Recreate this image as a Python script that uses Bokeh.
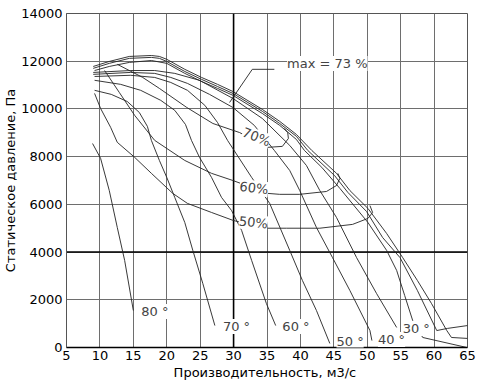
from bokeh.plotting import figure
from bokeh.models import Span, Label, FixedTicker, Range1d
from bokeh.embed import file_html
from bokeh.resources import INLINE

FONT = "DejaVu Sans"

x_ticks = [5, 10, 15, 20, 25, 30, 35, 40, 45, 50, 55, 60, 65]
y_ticks = [0, 2000, 4000, 6000, 8000, 10000, 12000, 14000]

# blade-angle pressure curves (flow m3/s, static pressure Pa)
a80_x = [8.9, 10.1, 11.4, 12.6, 13.7, 15.0]
a80_y = [8550, 7930, 6580, 5030, 3650, 1550]

a70_x = [9.2, 11.7, 14.1, 15.9, 17.1, 17.7, 18.9, 20.0, 21.2, 22.7, 23.9, 25.4, 27.2]
a70_y = [10780, 10610, 10310, 9850, 9270, 8680, 7840, 7130, 6290, 5240, 4070, 2680, 920]

a60_x = [9.2, 13.1, 16.1, 19.1, 21.2, 22.8, 23.7, 24.9, 26.7, 28.2, 29.7, 31.2, 32.7, 34.9, 36.3]
a60_y = [11200, 11030, 10780, 10360, 9940, 9350, 8680, 7970, 7130, 6290, 5740, 4910, 3650, 1850, 920]

a50_x = [9.2, 14.6, 18.2, 20.6, 23.1, 25.7, 27.6, 29.1, 32.7, 35.4, 38.4, 40.3, 42.4, 44.4]
a50_y = [11360, 11410, 11320, 11110, 10780, 10150, 9430, 8680, 7130, 6040, 4070, 2810, 1550, 170]

a40_x = [9.0, 14.6, 18.2, 20.6, 23.1, 26.4, 29.9, 33.1, 36.1, 38.4, 39.9, 42.4, 44.8, 47.4, 50.4, 50.7]
a40_y = [11450, 11530, 11490, 11320, 11070, 10610, 10060, 9310, 8260, 7420, 6580, 5030, 3770, 2390, 710, 290]

a30_x = [9.0, 14.6, 18.2, 21.2, 24.9, 29.9, 34.3, 38.4, 40.9, 42.9, 45.4, 48.4, 51.4, 54.4]
a30_y = [11530, 11610, 11610, 11490, 11200, 10440, 9600, 8470, 7630, 6580, 5450, 3770, 2260, 840]

a20_x = [9.2, 11.4, 14.4, 17.7, 20.0, 22.7, 25.2, 27.6, 29.9, 34.3, 36.9, 39.4, 40.6, 43.2, 45.9,
         50.1, 52.9, 54.4, 55.6, 56.8, 58.3, 64.9]
a20_y = [11610, 11780, 11950, 12030, 11910, 11490, 11150, 10860, 10570, 9810, 9310, 8720, 8260, 7550, 6670,
         5240, 4070, 3230, 2180, 1130, 420, 0]

a10_x = [9.0, 11.4, 14.4, 17.7, 18.9, 20.0, 22.7, 25.2, 27.6, 29.9, 34.3, 36.9, 39.4, 41.1, 45.1, 47.1,
         49.9, 52.3, 54.9, 57.5, 60.4, 62.0, 65.0]
a10_y = [11700, 11910, 12120, 12160, 12120, 11990, 11570, 11240, 10940, 10650, 9900, 9390, 8850, 8260, 7210, 6500,
         5700, 4610, 3770, 2390, 710, 800, 920]

a0_x = [9.0, 11.4, 14.4, 17.7, 18.9, 20.0, 22.7, 25.2, 27.6, 29.9, 34.3, 36.9, 39.4, 41.7, 45.4, 47.4,
        50.1, 52.9, 55.3, 57.5, 59.6, 61.9, 62.6, 65.0]
a0_y = [11780, 11990, 12200, 12240, 12200, 12080, 11660, 11320, 11030, 10730, 9980, 9480, 8930, 8260, 7300, 6580,
        5830, 4780, 3770, 2810, 1850, 710, 420, 380]

# efficiency contours
e50_x = [9.2, 10.1, 11.6, 12.6, 15.2, 17.7, 20.9, 23.1, 26.7, 29.9, 34.6, 37.9, 42.9, 47.8, 50.1, 50.8, 50.4]
e50_y = [10650, 10020, 9230, 8600, 7970, 7300, 6460, 6040, 5660, 5330, 5000, 5000, 5000, 5160, 5410, 5660, 5950]

e60_x = [10.7, 12.9, 15.2, 18.2, 22.7, 26.7, 29.9, 35.1, 36.9, 39.9, 43.9, 45.4, 45.9, 45.6]
e60_y = [11610, 10690, 9730, 8680, 7840, 7300, 7000, 6460, 6420, 6420, 6540, 6790, 7090, 7300]

e70_x = [12.6, 16.4, 18.9, 23.0, 26.9, 30.9, 35.1, 37.3, 38.2, 38.1, 37.6]
e70_y = [11870, 11320, 10860, 10060, 9390, 9010, 8390, 8430, 8760, 9010, 9180]

lead_x = [29.4, 32.8, 36.1]
lead_y = [10270, 11660, 11660]

angle_labels = ["80 °", "70 °", "60 °", "50 °", "40 °", "30 °"]
angle_lab_x = [16.2, 28.4, 37.3, 45.4, 51.6, 55.3]
angle_lab_y = [1510, 880, 880, 250, 340, 800]

eff_labels = ["70%", "60%", "50%"]
eff_lab_x = [31.4, 30.9, 30.8]
eff_lab_y = [9050, 6760, 5300]
eff_lab_ang = [-0.38, -0.12, -0.1]

x_title = "Производительность,  м3/с"
y_title = "Статическое давление, Па"

p = figure(frame_width=401, frame_height=334, output_backend="svg", toolbar_location=None,
           x_range=Range1d(5, 65), y_range=Range1d(0, 14000),
           min_border_left=66, min_border_top=13, min_border_right=10, min_border_bottom=4)
p.background_fill_color = "white"
p.outline_line_color = "#555555"

for ax in (p.xaxis[0], p.yaxis[0]):
    ax.major_label_text_font = FONT
    ax.major_label_text_font_size = "13px"
    ax.major_label_text_color = "black"
    ax.axis_label_text_font = FONT
    ax.axis_label_text_font_size = "13px"
    ax.axis_label_text_font_style = "normal"
    ax.axis_label_text_color = "black"
    ax.major_tick_out = 0
    ax.major_tick_in = 0
    ax.minor_tick_out = 0
    ax.minor_tick_in = 0
p.xaxis.ticker = FixedTicker(ticks=x_ticks)
p.yaxis.ticker = FixedTicker(ticks=y_ticks)
p.xaxis.axis_label = x_title
p.yaxis.axis_label = y_title
p.xaxis.axis_line_color = "black"
p.xaxis.axis_line_width = 1.6
p.yaxis.axis_line_color = "#555555"
p.xaxis.major_label_standoff = 3
p.yaxis.major_label_standoff = 4
p.yaxis.axis_label_standoff = 0
p.xaxis.axis_label_standoff = 2

p.xgrid.ticker = FixedTicker(ticks=x_ticks)
p.ygrid.ticker = FixedTicker(ticks=y_ticks)
for g in (p.xgrid[0], p.ygrid[0]):
    g.grid_line_color = "#6e6e6e"
    g.grid_line_width = 1
    g.grid_line_alpha = 1

p.add_layout(Span(location=30, dimension="height", line_color="black", line_width=1.6, level="underlay"))
p.add_layout(Span(location=4000, dimension="width", line_color="black", line_width=1.6, level="underlay"))

curves = [(a80_x, a80_y), (a70_x, a70_y), (a60_x, a60_y), (a50_x, a50_y), (a40_x, a40_y),
          (a30_x, a30_y), (a20_x, a20_y), (a10_x, a10_y), (a0_x, a0_y)]
for cx, cy in curves:
    p.line(cx, cy, line_color="#222222", line_width=0.9)

for cx, cy in [(e50_x, e50_y), (e60_x, e60_y), (e70_x, e70_y)]:
    p.line(cx, cy, line_color="#222222", line_width=0.9)

p.line(lead_x, lead_y, line_color="#222222", line_width=0.9)

for t, lx, ly in zip(angle_labels, angle_lab_x, angle_lab_y):
    p.add_layout(Label(x=lx, y=ly, text=t, text_font=FONT, text_font_size="13px",
                       text_baseline="middle", text_align="left",
                       background_fill_color="white", background_fill_alpha=1))

for t, lx, ly, ang in zip(eff_labels, eff_lab_x, eff_lab_y, eff_lab_ang):
    p.add_layout(Label(x=lx, y=ly, text=t, text_font=FONT, text_font_size="13px",
                       text_baseline="middle", text_align="left", angle=ang,
                       background_fill_color="white", background_fill_alpha=1))

p.add_layout(Label(x=38.0, y=11900, text="max = 73 %", text_font=FONT, text_font_size="13px",
                   text_baseline="middle", text_align="left",
                   background_fill_color="white", background_fill_alpha=1))

open("out.html", "w").write(file_html(p, INLINE))
